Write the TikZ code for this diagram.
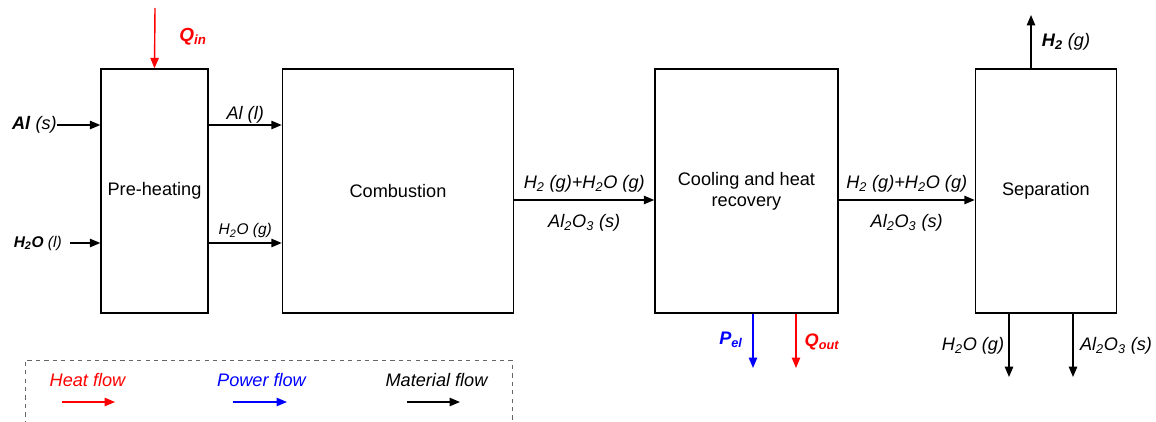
\documentclass[tikz,border=0pt]{standalone}
\usepackage{fontspec}
\setmainfont{Liberation Sans}
\usepackage{xcolor}
\usepackage{tikz}
\usetikzlibrary{positioning,arrows.meta}
\definecolor{heatred}{RGB}{255,0,0}
\definecolor{powerblue}{RGB}{0,0,255}
\newcommand{\chem}[2]{#1\textsubscript{#2}}

\begin{document}
\begin{tikzpicture}[x=0.025cm,y=-0.025cm, node distance=1.825cm,
  every node/.style={font=\fontsize{12.9}{15}\selectfont},
  unit/.style={draw,line width=1pt,minimum height=6.1cm,align=center,inner sep=0pt},
  flow/.style={-{Triangle[length=2.6mm,width=2.1mm]},line width=1pt},
  heat/.style={flow,draw=heatred},
  power/.style={flow,draw=powerblue}]
\useasboundingbox (0,0) rectangle (1156,421);
% process units
\node[unit,minimum width=2.675cm] (pre) at (154.5,191) {Pre-heating};
\node[unit,minimum width=5.775cm,right=1.825cm of pre] (comb) {Combustion};
\node[unit,minimum width=4.575cm,right=3.5cm of comb] (cool) {Cooling and heat\\recovery};
\node[unit,minimum width=3.525cm,right=3.4cm of cool] (sep) {Separation};
% feeds
\node[anchor=east,inner sep=0pt] (als) at (57,125) {\textbf{\textit{Al}} \textit{(s)}};
\node[anchor=east,inner sep=0pt,font=\fontsize{11}{13}\selectfont] (h2ol) at (62,243) {\textbf{\textit{\chem{H}{2}O}} \textit{(l)}};
\draw[flow] (als.east) -- (als.east -| pre.west);
\draw[flow] ([xshift=6pt]h2ol.east) -- (h2ol.east -| pre.west);
\coordinate (qintop) at (155,8);
\draw[heat] (qintop) -- (pre.north);
\node[text=heatred,font=\fontsize{13.5}{15}\selectfont] (qin) at (193,37) {\textbf{\textit{\chem{Q}{in}}}};
% pre-heating to combustion
\draw[flow] (pre.east |- als) -- node[above,inner sep=1pt] (all) {\textit{Al (l)}} (comb.west |- als);
\draw[flow] (pre.east |- h2ol) -- node[above,inner sep=3pt,font=\fontsize{11}{13}\selectfont] (h2og) {\textit{\chem{H}{2}O (g)}} (comb.west |- h2ol);
% main line
\coordinate (main) at (0,200);
\draw[flow] (comb.east |- main) -- node[above,inner sep=5pt] (gasa) {\textit{\chem{H}{2} (g)+\chem{H}{2}O (g)}}
  node[below,inner sep=10pt] (sola) {\textit{\chem{Al}{2}\chem{O}{3} (s)}} (cool.west |- main);
\draw[flow] (cool.east |- main) -- node[above,inner sep=5pt] (gasb) {\textit{\chem{H}{2} (g)+\chem{H}{2}O (g)}}
  node[below,inner sep=10pt] (solb) {\textit{\chem{Al}{2}\chem{O}{3} (s)}} (sep.west |- main);
% cooling outputs
\coordinate (pelend) at (753,368);
\coordinate (qoutend) at (796,368);
\draw[power] (cool.south -| pelend) -- (pelend);
\draw[heat] (cool.south -| qoutend) -- (qoutend);
\node[text=powerblue] (pel) at (731,340) {\textbf{\textit{\chem{P}{el}}}};
\node[text=heatred] (qout) at (822,342) {\textbf{\textit{\chem{Q}{out}}}};
% separation outputs
\coordinate (h2end) at (1031,15);
\coordinate (h2oend) at (1009,377);
\coordinate (aloend) at (1073,377);
\draw[flow] (sep.north -| h2end) -- (h2end);
\draw[flow] (sep.south -| h2oend) -- (h2oend);
\draw[flow] (sep.south -| aloend) -- (aloend);
\node (h2g) at (1066,42) {\textbf{\textit{\chem{H}{2}}} \textit{(g)}};
\node (h2ob) at (973,346) {\textit{\chem{H}{2}O (g)}};
\node (alob) at (1116,346) {\textit{\chem{Al}{2}\chem{O}{3} (s)}};
% legend
\draw[dashed,gray!80!black,line width=0.6pt] (25,425) -- (25,360) -- (512,360) -- (512,425);
\node[text=heatred] (lheat) at (88,380) {\textit{Heat flow}};
\node[text=powerblue] (lpower) at (262,380) {\textit{Power flow}};
\node (lmat) at (437,380) {\textit{Material flow}};
\coordinate (ha) at (62,402); \coordinate (hb) at (115,402);
\coordinate (pa) at (233,402); \coordinate (pb) at (287,402);
\coordinate (ma) at (407,402); \coordinate (mb) at (460,402);
\draw[heat] (ha) -- (hb);
\draw[power] (pa) -- (pb);
\draw[flow] (ma) -- (mb);
\end{tikzpicture}
\end{document}
